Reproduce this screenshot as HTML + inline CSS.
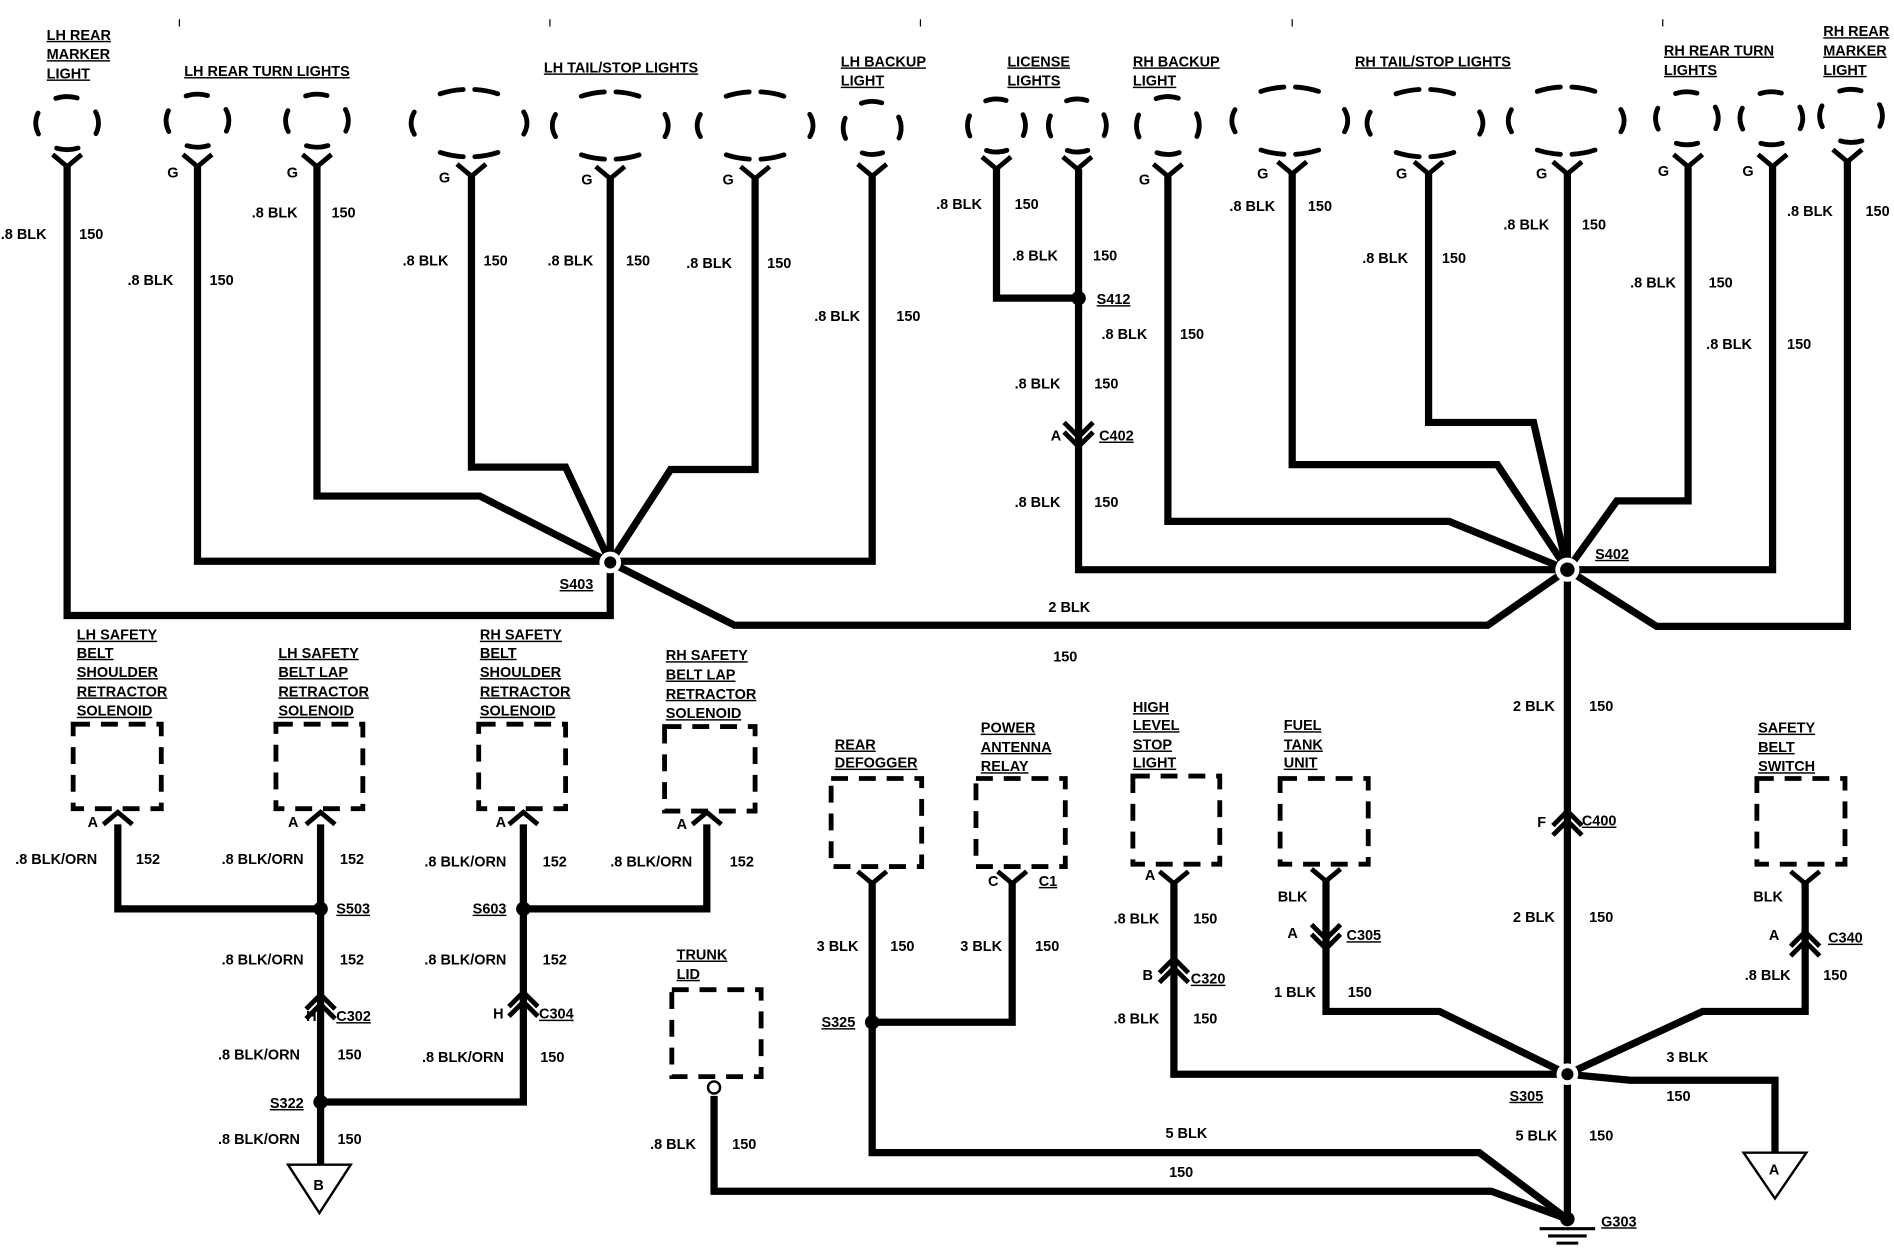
<!DOCTYPE html>
<html><head><meta charset="utf-8">
<style>
html,body{margin:0;padding:0;background:#fff;}
svg{display:block;}
text{font-family:"Liberation Sans",sans-serif;font-weight:bold;font-size:12px;fill:#000;}
.u{text-decoration:underline;}
.w{fill:none;stroke:#000;stroke-width:6;stroke-linejoin:miter;}
.d{fill:none;stroke:#000;stroke-width:4;stroke-dasharray:14 9;}
.l{fill:none;stroke:#000;stroke-width:4;stroke-dasharray:6 13 12 13 12 13 12 13 6;stroke-linecap:round;}
.lw{fill:none;stroke:#000;stroke-width:4;stroke-dasharray:4 11 8 4 8 11 8 11 8 4 8 11 4;stroke-linecap:round;}
.c{fill:none;stroke:#000;stroke-width:4;}
</style></head><body>
<svg width="1894" height="1248" viewBox="0 0 1568 1034" xmlns="http://www.w3.org/2000/svg">
<rect width="1568" height="1034" fill="#fff"/>
<g>
<ellipse class="l" pathLength="100" cx="55" cy="102" rx="26" ry="22"/>
<ellipse class="l" pathLength="100" cx="163" cy="100" rx="26" ry="22"/>
<ellipse class="l" pathLength="100" cx="262" cy="100" rx="26" ry="22"/>
<ellipse class="lw" pathLength="100" cx="388" cy="102" rx="48" ry="28"/>
<ellipse class="lw" pathLength="100" cx="505" cy="104" rx="48" ry="28"/>
<ellipse class="lw" pathLength="100" cx="625" cy="104" rx="48" ry="28"/>
<ellipse class="l" pathLength="100" cx="722" cy="106" rx="24" ry="22"/>
<ellipse class="l" pathLength="100" cx="825" cy="104" rx="24" ry="22"/>
<ellipse class="l" pathLength="100" cx="892" cy="104" rx="24" ry="22"/>
<ellipse class="l" pathLength="100" cx="967" cy="104" rx="26" ry="24"/>
<ellipse class="lw" pathLength="100" cx="1068" cy="100" rx="48" ry="28"/>
<ellipse class="lw" pathLength="100" cx="1180" cy="102" rx="48" ry="28"/>
<ellipse class="lw" pathLength="100" cx="1297" cy="100" rx="48" ry="28"/>
<ellipse class="l" pathLength="100" cx="1397" cy="98" rx="26" ry="22"/>
<ellipse class="l" pathLength="100" cx="1467" cy="98" rx="26" ry="22"/>
<ellipse class="l" pathLength="100" cx="1533" cy="96" rx="26" ry="22"/>
</g>
<g class="d">
<rect x="60" y="600" width="73" height="70"/>
<rect x="228" y="600" width="72" height="70"/>
<rect x="396" y="600" width="72" height="70"/>
<rect x="550" y="602" width="75" height="70"/>
<rect x="688" y="645" width="75" height="73"/>
<rect x="808" y="645" width="74" height="73"/>
<rect x="938" y="643" width="72" height="73"/>
<rect x="1060" y="645" width="73" height="71"/>
<rect x="1455" y="645" width="73" height="71"/>
<rect x="556" y="820" width="74" height="72"/>
</g>
<g class="c">
<path d="M43,128 L55,138 L67,128"/><path d="M151,128 L163,138 L175,128"/><path d="M250,128 L262,138 L274,128"/>
<path d="M378,136 L390,146 L402,136"/><path d="M493,138 L505,148 L517,138"/><path d="M613,138 L625,148 L637,138"/>
<path d="M710,136 L722,146 L734,136"/><path d="M813,130 L825,140 L837,130"/><path d="M880,130 L892,140 L904,130"/>
<path d="M955,136 L967,146 L979,136"/><path d="M1058,134 L1070,144 L1082,134"/><path d="M1171,134 L1183,144 L1195,134"/>
<path d="M1286,134 L1298,144 L1310,134"/><path d="M1386,128 L1398,138 L1410,128"/><path d="M1456,128 L1468,138 L1480,128"/>
<path d="M1518,124 L1530,134 L1542,124"/>
<path d="M85,683 L97,673 L109,683"/><path d="M253,683 L265,673 L277,683"/><path d="M421,683 L433,673 L445,683"/><path d="M573,683 L585,673 L597,683"/>
<path d="M710,722 L722,732 L734,722"/><path d="M826,722 L838,732 L850,722"/><path d="M960,722 L972,732 L984,722"/><path d="M1086,720 L1098,730 L1110,720"/><path d="M1483,722 L1495,732 L1507,722"/>
</g>
<g class="c">
<path d="M881,350 L893,362 L905,350"/><path d="M881,358 L893,370 L905,358"/>
<path d="M1286,684 L1298,672 L1310,684"/><path d="M1286,692 L1298,680 L1310,692"/>
<path d="M253,836 L265,824 L277,836"/><path d="M253,844 L265,832 L277,844"/>
<path d="M421,834 L433,822 L445,834"/><path d="M421,842 L433,830 L445,842"/>
<path d="M960,806 L972,794 L984,806"/><path d="M960,814 L972,802 L984,814"/>
<path d="M1086,766 L1098,778 L1110,766"/><path d="M1086,774 L1098,786 L1110,774"/>
<path d="M1483,784 L1495,772 L1507,784"/><path d="M1483,792 L1495,780 L1507,792"/>
</g>
<g class="w">
<path d="M55,138 V510 H505 V466"/>
<path d="M163,138 V465 H505"/>
<path d="M262,138 V411 H397 L505,466"/>
<path d="M390,146 V387 H468 L505,466"/>
<path d="M505,148 V466"/>
<path d="M625,148 V389 H555 L505,466"/>
<path d="M722,146 V465 H505"/>
<path d="M505,466 L608,518 H1232 L1298,472"/>
<path d="M825,140 V247 H893"/>
<path d="M893,140 V472 H1298"/>
<path d="M967,146 V432 H1200 L1298,472"/>
<path d="M1070,144 V385 H1240 L1298,472"/>
<path d="M1183,144 V350 H1270 L1298,472"/>
<path d="M1298,144 V1010"/>
<path d="M1398,138 V415 H1339 L1298,472"/>
<path d="M1468,138 V472 H1298"/>
<path d="M1530,134 V519 H1372 L1298,472"/>
<path d="M97,683 V753 H265"/>
<path d="M265,683 V965"/>
<path d="M433,683 V913 H265"/>
<path d="M433,753 H585 V683"/>
<path d="M722,732 V847 H838 V732"/>
<path d="M722,847 V955 H1225 L1298,1010"/>
<path d="M591,908 V987 H1235 L1298,1010"/>
<path d="M972,732 V890 H1298"/>
<path d="M1098,730 V838 H1192 L1298,890"/>
<path d="M1495,732 V838 H1410 L1298,890"/>
<path d="M1298,890 L1350,895 H1470 V955"/>
</g>
<g fill="#fff"><circle cx="505" cy="466" r="9"/><circle cx="1298" cy="472" r="10"/><circle cx="1298" cy="890" r="9"/></g>
<g fill="#000">
<circle cx="505" cy="466" r="5"/><circle cx="1298" cy="472" r="6"/><circle cx="893" cy="247" r="6"/>
<circle cx="265" cy="753" r="6"/><circle cx="433" cy="753" r="6"/><circle cx="265" cy="913" r="6"/>
<circle cx="722" cy="847" r="6"/><circle cx="1298" cy="890" r="5"/><circle cx="1298" cy="1010" r="6"/>
</g>
<circle cx="591" cy="901" r="5" fill="#fff" stroke="#000" stroke-width="2"/>
<g fill="#fff" stroke="#000" stroke-width="2">
<path d="M238,965 H290 L264,1005 Z"/><path d="M1444,955 H1496 L1470,993 Z"/>
</g>
<text x="259" y="986">B</text><text x="1465" y="973">A</text>
<g stroke="#000" stroke-width="2.5"><path d="M1275,1018 H1321 M1282,1024 H1314 M1289,1030 H1307"/></g>
<g>
<text x="38" y="33" class="u">LH REAR</text><text x="38" y="49" class="u">MARKER</text><text x="38" y="65" class="u">LIGHT</text>
<text x="152" y="63" class="u">LH REAR TURN LIGHTS</text>
<text x="450" y="60" class="u">LH TAIL/STOP LIGHTS</text>
<text x="696" y="55" class="u">LH BACKUP</text><text x="696" y="71" class="u">LIGHT</text>
<text x="834" y="55" class="u">LICENSE</text><text x="834" y="71" class="u">LIGHTS</text>
<text x="938" y="55" class="u">RH BACKUP</text><text x="938" y="71" class="u">LIGHT</text>
<text x="1122" y="55" class="u">RH TAIL/STOP LIGHTS</text>
<text x="1378" y="46" class="u">RH REAR TURN</text><text x="1378" y="62" class="u">LIGHTS</text>
<text x="1510" y="30" class="u">RH REAR</text><text x="1510" y="46" class="u">MARKER</text><text x="1510" y="62" class="u">LIGHT</text>
<text x="63" y="530" class="u">LH SAFETY</text><text x="63" y="545" class="u">BELT</text><text x="63" y="561" class="u">SHOULDER</text><text x="63" y="577" class="u">RETRACTOR</text><text x="63" y="593" class="u">SOLENOID</text>
<text x="230" y="545" class="u">LH SAFETY</text><text x="230" y="561" class="u">BELT LAP</text><text x="230" y="577" class="u">RETRACTOR</text><text x="230" y="593" class="u">SOLENOID</text>
<text x="397" y="530" class="u">RH SAFETY</text><text x="397" y="545" class="u">BELT</text><text x="397" y="561" class="u">SHOULDER</text><text x="397" y="577" class="u">RETRACTOR</text><text x="397" y="593" class="u">SOLENOID</text>
<text x="551" y="547" class="u">RH SAFETY</text><text x="551" y="563" class="u">BELT LAP</text><text x="551" y="579" class="u">RETRACTOR</text><text x="551" y="595" class="u">SOLENOID</text>
<text x="691" y="621" class="u">REAR</text><text x="691" y="636" class="u">DEFOGGER</text>
<text x="812" y="607" class="u">POWER</text><text x="812" y="623" class="u">ANTENNA</text><text x="812" y="639" class="u">RELAY</text>
<text x="938" y="590" class="u">HIGH</text><text x="938" y="605" class="u">LEVEL</text><text x="938" y="621" class="u">STOP</text><text x="938" y="636" class="u">LIGHT</text>
<text x="1063" y="605" class="u">FUEL</text><text x="1063" y="621" class="u">TANK</text><text x="1063" y="636" class="u">UNIT</text>
<text x="1456" y="607" class="u">SAFETY</text><text x="1456" y="623" class="u">BELT</text><text x="1456" y="639" class="u">SWITCH</text>
<text x="560" y="795" class="u">TRUNK</text><text x="560" y="811" class="u">LID</text>
</g>
<g>
<text x="463" y="488" class="u">S403</text><text x="1321" y="463" class="u">S402</text><text x="908" y="252" class="u">S412</text>
<text x="870" y="365">A</text><text x="910" y="365" class="u">C402</text>
<text x="1273" y="685">F</text><text x="1310" y="684" class="u">C400</text>
<text x="278" y="757" class="u">S503</text><text x="391" y="757" class="u">S603</text>
<text x="253" y="846">H</text><text x="278" y="846" class="u">C302</text>
<text x="408" y="844">H</text><text x="446" y="844" class="u">C304</text>
<text x="223" y="918" class="u">S322</text>
<text x="680" y="851" class="u">S325</text>
<text x="818" y="734">C</text><text x="860" y="734" class="u">C1</text>
<text x="948" y="729">A</text><text x="946" y="812">B</text><text x="986" y="815" class="u">C320</text>
<text x="1066" y="777">A</text><text x="1115" y="779" class="u">C305</text>
<text x="1465" y="779">A</text><text x="1514" y="781" class="u">C340</text>
<text x="1250" y="912" class="u">S305</text>
<text x="1326" y="1016" class="u">G303</text>
<text x="72" y="685">A</text><text x="238" y="685">A</text><text x="410" y="685">A</text><text x="560" y="687">A</text>
</g>
<g>
<text x="138" y="147">G</text><text x="237" y="147">G</text><text x="363" y="151">G</text><text x="481" y="153">G</text><text x="598" y="153">G</text>
<text x="943" y="153">G</text><text x="1041" y="148">G</text><text x="1156" y="148">G</text><text x="1272" y="148">G</text><text x="1373" y="146">G</text><text x="1443" y="146">G</text>
</g>
<g>
<text x="0" y="198">.8 BLK</text><text x="65" y="198">150</text>
<text x="105" y="236">.8 BLK</text><text x="173" y="236">150</text>
<text x="208" y="180">.8 BLK</text><text x="274" y="180">150</text>
<text x="333" y="220">.8 BLK</text><text x="400" y="220">150</text>
<text x="453" y="220">.8 BLK</text><text x="518" y="220">150</text>
<text x="568" y="222">.8 BLK</text><text x="635" y="222">150</text>
<text x="674" y="266">.8 BLK</text><text x="742" y="266">150</text>
<text x="775" y="173">.8 BLK</text><text x="840" y="173">150</text>
<text x="838" y="216">.8 BLK</text><text x="905" y="216">150</text>
<text x="912" y="281">.8 BLK</text><text x="977" y="281">150</text>
<text x="840" y="322">.8 BLK</text><text x="906" y="322">150</text>
<text x="840" y="420">.8 BLK</text><text x="906" y="420">150</text>
<text x="1018" y="175">.8 BLK</text><text x="1083" y="175">150</text>
<text x="1128" y="218">.8 BLK</text><text x="1194" y="218">150</text>
<text x="1245" y="190">.8 BLK</text><text x="1310" y="190">150</text>
<text x="1350" y="238">.8 BLK</text><text x="1415" y="238">150</text>
<text x="1413" y="289">.8 BLK</text><text x="1480" y="289">150</text>
<text x="1480" y="179">.8 BLK</text><text x="1545" y="179">150</text>
<text x="868" y="507">2 BLK</text><text x="872" y="548">150</text>
<text x="1253" y="589">2 BLK</text><text x="1316" y="589">150</text>
<text x="1253" y="764">2 BLK</text><text x="1316" y="764">150</text>
<text x="12" y="716">.8 BLK/ORN</text><text x="112" y="716">152</text>
<text x="183" y="716">.8 BLK/ORN</text><text x="281" y="716">152</text>
<text x="351" y="718">.8 BLK/ORN</text><text x="449" y="718">152</text>
<text x="505" y="718">.8 BLK/ORN</text><text x="604" y="718">152</text>
<text x="183" y="799">.8 BLK/ORN</text><text x="281" y="799">152</text>
<text x="351" y="799">.8 BLK/ORN</text><text x="449" y="799">152</text>
<text x="180" y="878">.8 BLK/ORN</text><text x="279" y="878">150</text>
<text x="349" y="880">.8 BLK/ORN</text><text x="447" y="880">150</text>
<text x="180" y="948">.8 BLK/ORN</text><text x="279" y="948">150</text>
<text x="676" y="788">3 BLK</text><text x="737" y="788">150</text>
<text x="795" y="788">3 BLK</text><text x="857" y="788">150</text>
<text x="922" y="765">.8 BLK</text><text x="988" y="765">150</text>
<text x="922" y="848">.8 BLK</text><text x="988" y="848">150</text>
<text x="1058" y="747">BLK</text>
<text x="1055" y="826">1 BLK</text><text x="1116" y="826">150</text>
<text x="1452" y="747">BLK</text>
<text x="1445" y="812">.8 BLK</text><text x="1510" y="812">150</text>
<text x="1380" y="880">3 BLK</text><text x="1380" y="912">150</text>
<text x="965" y="943">5 BLK</text><text x="968" y="975">150</text>
<text x="1255" y="945">5 BLK</text><text x="1316" y="945">150</text>
<text x="538" y="952">.8 BLK</text><text x="606" y="952">150</text>
</g>
<g stroke="#000" stroke-width="1"><path d="M148,16V22 M455,16V22 M762,16V22 M1070,16V22 M1377,16V22"/></g>
</svg>
</body></html>
